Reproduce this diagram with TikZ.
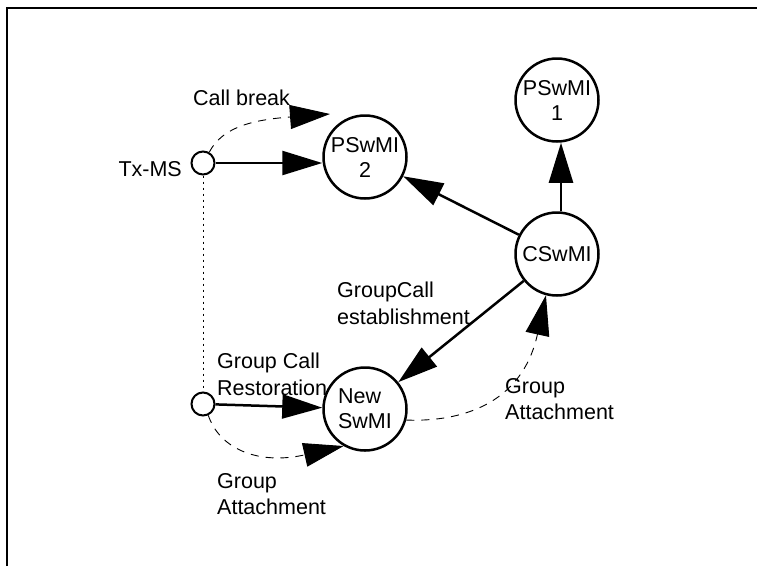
\documentclass[tikz,border=0pt]{standalone}
\usepackage{fontspec}
\setmainfont{Liberation Sans}
\usetikzlibrary{arrows.meta}
\begin{document}
\begin{tikzpicture}[x=1pt,y=-1pt,
  lbl/.style={inner sep=0pt, align=left, font=\fontsize{21.5}{26.5}\selectfont},
  bignode/.style={circle, draw, line width=2.5pt, minimum size=83pt, inner sep=0pt, align=center, font=\fontsize{21.5}{25}\selectfont},
  smallnode/.style={circle, draw, line width=2pt, minimum size=23pt, inner sep=0pt},
  arr/.style={line width=2.5pt, -{Triangle[length=40pt,width=24pt]}},
  darr/.style={line width=0.9pt, dash pattern=on 8pt off 7pt, -{Triangle[length=40pt,width=24pt]}},
  dotline/.style={line width=1pt, dash pattern=on 2.5pt off 3.5pt},
]
\useasboundingbox (0,0) rectangle (757,566);
\draw[line width=2pt] (7,566) -- (7,7.5) -- (757,7.5);

\node[bignode] (pswmi1) at (557,100) {PSwMI\\1};
\node[bignode] (pswmi2) at (365,157) {PSwMI\\2};
\node[bignode] (cswmi) at (557,254) {CSwMI};
\node[bignode, align=left] (newswmi) at (365,409) {New\\SwMI};
\node[smallnode] (txms) at (203,163) {};
\node[smallnode] (lower) at (203,404) {};

\node[lbl, anchor=north east] (txmslbl) at (182,161) {Tx-MS};
\node[lbl, anchor=north west] (cblbl) at (193,90) {Call break};
\node[lbl, anchor=north west] (gcelbl) at (337,282) {GroupCall\\establishment};
\node[lbl, anchor=north west] (gcrlbl) at (217,353) {Group Call\\Restoration};
\node[lbl, anchor=north west] (ga1lbl) at (217,473) {Group\\Attachment};
\node[lbl, anchor=north west] (ga2lbl) at (505,378) {Group\\Attachment};

\draw[dotline] (txms.south) -- (lower.north);

\draw[arr] (txms.east) -- (txms.east -| pswmi2.west);
\draw[arr] (cswmi) -- (pswmi2);
\draw[arr] ([xshift=4pt]cswmi.north) -- ([xshift=4pt]pswmi1.south);
\draw[arr] (cswmi) -- (newswmi);
\draw[arr] (lower) -- (newswmi);

\coordinate (cbend) at (330,114);
\draw[darr] (txms.60) .. controls (222,128) and (250,120) .. (cbend);
\draw[darr] (lower.-65) .. controls (220,450) and (260,465) .. (newswmi.240);
\draw[darr] (newswmi.-15) .. controls (460,422) and (522,405) .. (cswmi.255);
\end{tikzpicture}
\end{document}
